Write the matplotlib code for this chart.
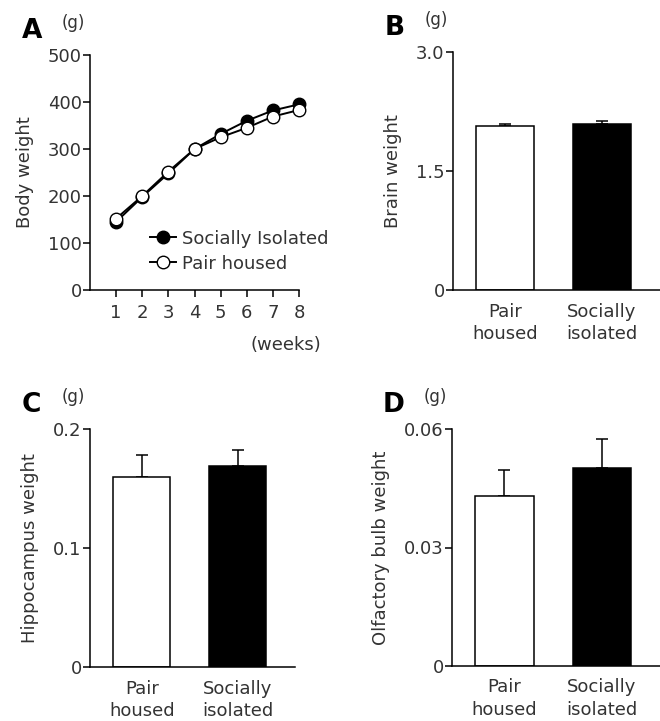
import numpy as np
import matplotlib
matplotlib.use('Agg')
import matplotlib.pyplot as plt

plt.rcParams['font.family'] = ['DejaVu Sans']

# Panel A: body weight over weeks
weeks = [1, 2, 3, 4, 5, 6, 7, 8]
isolated_bw = [145, 198, 248, 300, 332, 360, 382, 395]
pair_bw = [152, 200, 252, 300, 325, 345, 369, 383]

# Bar panels
groups = ['Pair\nhoused', 'Socially\nisolated']
brain_mean = [2.07, 2.09]
brain_err = [0.02, 0.04]
hippo_mean = [0.160, 0.169]
hippo_err = [0.018, 0.013]
olf_mean = [0.043, 0.0502]
olf_err = [0.0066, 0.0073]

TXT = '#333333'
FS = 13

fig = plt.figure(figsize=(6.6, 7.21), dpi=100)


def style_axes(ax):
    for s in ['top', 'right']:
        ax.spines[s].set_visible(False)
    for s in ['left', 'bottom']:
        ax.spines[s].set_linewidth(1.1)
    ax.tick_params(direction='out', length=5, width=1.1, labelsize=FS,
                   labelcolor=TXT, pad=1)


def panel_label(ax, letter):
    # offsets in points from the top-left corner of the axes
    ax.annotate(letter, xy=(0, 1), xycoords='axes fraction',
                xytext=(-42, 12), textcoords='offset points', fontsize=19,
                fontweight='bold', ha='center', va='baseline', color='black')
    ax.annotate('(g)', xy=(0, 1), xycoords='axes fraction',
                xytext=(-12, 23), textcoords='offset points', fontsize=12,
                ha='center', va='center', color=TXT)


# ---- A ----
axA = fig.add_axes([90/660, 1-290/721, 209/660, 235/721])
axA.plot(weeks, isolated_bw, '-o', color='black', mfc='black', mec='black',
         ms=9, lw=1.4, label='Socially Isolated', clip_on=False)
axA.plot(weeks, pair_bw, '-o', color='black', mfc='white', mec='black',
         ms=9, lw=1.4, label='Pair housed', clip_on=False)
axA.set_xlim(0, 8)
axA.set_ylim(0, 500)
axA.set_xticks(weeks)
axA.set_yticks([0, 100, 200, 300, 400, 500])
style_axes(axA)
axA.tick_params(axis='x', pad=5)
axA.set_ylabel('Body weight', fontsize=FS, color=TXT, labelpad=10)
axA.text((286-90)/209, -(345-290)/235, '(weeks)', transform=axA.transAxes,
         fontsize=FS, ha='center', va='center', color=TXT)
panel_label(axA, 'A')
axA.legend(loc='center left', bbox_to_anchor=(0.285, 0.165), frameon=False,
           fontsize=FS, handlelength=1.45, handletextpad=0.35,
           labelspacing=0.38, borderpad=0, borderaxespad=0, labelcolor=TXT)


def bar_panel(rect, means, errs, ylim, yticks, yticklabels, ylabel, letter):
    ax = fig.add_axes(rect)
    x = np.arange(len(means))
    ax.bar(x, means, width=0.6, color=['white', 'black'], edgecolor='black',
           linewidth=1.1, zorder=2)
    ax.errorbar(x, means, yerr=[[0] * len(errs), errs], fmt='none',
                ecolor='black', elinewidth=1.1, capsize=4.5, capthick=1.1,
                zorder=1)
    ax.set_xlim(-0.54, 1.6)
    ax.set_ylim(*ylim)
    ax.set_yticks(yticks)
    ax.set_yticklabels(yticklabels)
    ax.set_xticks(x)
    ax.set_xticklabels(groups, linespacing=1.3, fontsize=14)
    style_axes(ax)
    ax.tick_params(axis='x', length=0, pad=9)
    ax.set_ylabel(ylabel, fontsize=FS, color=TXT, labelpad=10)
    panel_label(ax, letter)
    return ax


bar_panel([453/660, 1-290/721, 207/660, 238/721], brain_mean, brain_err,
          (0, 3.0), [0, 1.5, 3.0], ['0', '1.5', '3.0'], 'Brain weight', 'B')
bar_panel([90/660, 1-667/721, 205/660, 238/721], hippo_mean, hippo_err,
          (0, 0.2), [0, 0.1, 0.2], ['0', '0.1', '0.2'], 'Hippocampus weight', 'C')
bar_panel([452/660, 1-666/721, 208/660, 237/721], olf_mean, olf_err,
          (0, 0.06), [0, 0.03, 0.06], ['0', '0.03', '0.06'],
          'Olfactory bulb weight', 'D')

fig.savefig('out.png', dpi=100)
